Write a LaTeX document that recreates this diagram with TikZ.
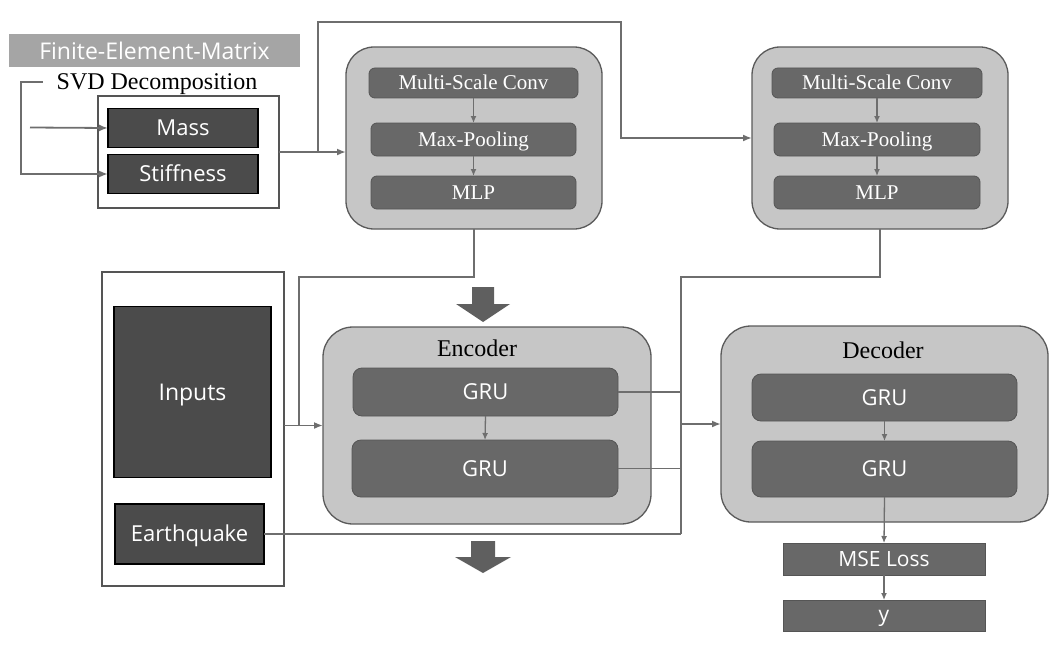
\documentclass[tikz,border=0pt]{standalone}
\usepackage{fontspec}
\setmainfont{Liberation Serif}
\newfontfamily\uisans{Open Sans}
\usetikzlibrary{arrows.meta,calc}
\definecolor{outerfill}{HTML}{C6C6C6}
\definecolor{outerdraw}{HTML}{5A5A5A}
\definecolor{innerfill}{HTML}{686868}
\definecolor{innerdraw}{HTML}{555555}
\definecolor{darkfill}{HTML}{4B4B4B}
\definecolor{linec}{HTML}{6E6E6E}
\definecolor{bannerc}{HTML}{A5A5A5}
\definecolor{blockc}{HTML}{5F5F5F}
\newcommand{\fs}[1]{\fontsize{#1}{#1}\selectfont}
\begin{document}
\begin{tikzpicture}[x=1pt,y=-1pt,
  every node/.style={outer sep=0pt, inner sep=0pt},
  sansf/.style={font=\uisans\fs{#1}, text height={0.714*#1pt}, text depth=0pt},
  seriff/.style={font=\fs{#1}, text height={0.662*#1pt}, text depth=0pt},
  outerbox/.style={draw=outerdraw, fill=outerfill, line width=1.3pt, rounded corners=28pt},
  innerbox/.style={draw=innerdraw, fill=innerfill, line width=0.8pt, rounded corners=6pt, text=white},
  darkbox/.style={draw=black, fill=darkfill, line width=1.3pt, text=white},
  whitebox/.style={draw=innerdraw, fill=white, line width=1.2pt},
  lossbox/.style={draw=innerdraw, fill=innerfill, line width=0.8pt, text=white},
  conn/.style={draw=linec, line width=1.8pt},
  arr/.style={conn, -{Latex[length=9pt,width=7pt]}},
  iarr/.style={draw=linec, line width=1.3pt, -{Latex[length=7pt,width=6pt]}},
  blk/.style={fill=blockc}
]
\useasboundingbox (0,0) rectangle (1056,658);

% Finite element matrix banner
\node[fill=bannerc, text=white, minimum width=291pt, minimum height=33pt, sansf=23] (banner) at (154.5,51) {Finite-Element-Matrix};
\node[seriff=24] (svd) at (157,82) {SVD Decomposition};

% Mass / Stiffness
\node[whitebox, minimum width=181pt, minimum height=112pt] (mbox) at (188.5,152) {};
\node[darkbox, sansf=22, minimum width=150pt, minimum height=39pt] (mass) at (183,128) {Mass};
\node[darkbox, sansf=22, minimum width=150pt, minimum height=39pt] (stiff) at (183,174) {Stiffness};

% Block 1
\node[outerbox, minimum width=256pt, minimum height=182pt] (b1) at (474,138) {};
\node[innerbox, seriff=21, minimum width=209pt, minimum height=30pt] (c1) at (473.5,83) {Multi-Scale Conv};
\node[innerbox, seriff=21, minimum width=205pt, minimum height=33pt] (p1) at (473.5,139.5) {Max-Pooling};
\node[innerbox, seriff=21, minimum width=205pt, minimum height=33pt] (m1) at (473.5,192.5) {MLP};

% Block 2
\node[outerbox, minimum width=256pt, minimum height=182pt] (b2) at (880,138) {};
\node[innerbox, seriff=21, minimum width=210pt, minimum height=30pt] (c2) at (877,83) {Multi-Scale Conv};
\node[innerbox, seriff=21, minimum width=206pt, minimum height=33pt] (p2) at (877,139.5) {Max-Pooling};
\node[innerbox, seriff=21, minimum width=206pt, minimum height=33pt] (m2) at (877,192.5) {MLP};

% Inputs
\node[whitebox, minimum width=182pt, minimum height=314pt] (ibox) at (193,429) {};
\node[darkbox, sansf=23, minimum width=157pt, minimum height=171pt] (inp) at (192.5,392) {Inputs};
\node[darkbox, sansf=22, minimum width=149pt, minimum height=60pt] (eq) at (189.5,534) {Earthquake};

% Encoder
\node[outerbox, rounded corners=30pt, minimum width=328pt, minimum height=197pt] (enc) at (487,425.5) {};
\node[seriff=24] (enclab) at (477,349) {Encoder};
\node[innerbox, sansf=22, rounded corners=9pt, minimum width=265pt, minimum height=48pt] (g1) at (485.5,392) {GRU};
\node[innerbox, sansf=22, rounded corners=9pt, minimum width=266pt, minimum height=57pt] (g2) at (485,468.5) {GRU};

% Decoder
\node[outerbox, rounded corners=30pt, minimum width=327pt, minimum height=196pt] (dec) at (884.5,424) {};
\node[seriff=24] (declab) at (883,351) {Decoder};
\node[innerbox, sansf=22, rounded corners=9pt, minimum width=265pt, minimum height=47pt] (dg1) at (884.5,397.5) {GRU};
\node[innerbox, sansf=22, rounded corners=9pt, minimum width=265pt, minimum height=56pt] (dg2) at (884.5,469) {GRU};

% Loss / output
\node[lossbox, sansf=21, minimum width=202pt, minimum height=32pt] (mse) at (884,559) {MSE Loss};
\node[lossbox, font=\uisans\fs{21}, text height=11pt, text depth=0pt, minimum width=202pt, minimum height=31pt] (yb) at (884,615.5) {y};

% Block arrows
\fill[blk] (472,287) -- (494,287) -- (494,304) -- (510,304) -- (483,322) -- (456,304) -- (472,304) -- cycle;
\fill[blk] (471,541) -- (495,541) -- (495,557) -- (511,557) -- (483,573) -- (455,557) -- (471,557) -- cycle;

% Coordinates
\coordinate (massin) at (30,127.5);
\coordinate (j1) at (318,152);
\coordinate (t2) at (621,22);
\coordinate (k1) at (299,277);
\coordinate (k2) at (681,277);

% Connectors top-left
\draw[arr] ([xshift=-14pt]svd.west) -- ++(-22,0) |- (stiff.west);
\draw[arr] (massin) -- (mass.west);
\draw[arr] (mbox.east) -- (mbox.east -| b1.west);
\draw[arr] (j1) |- (t2) |- (b2.west);

% Inner block arrows
\draw[iarr] (c1.south) -- (p1.north);
\draw[iarr] (p1.south) -- (m1.north);
\draw[iarr] (c2.south) -- (p2.north);
\draw[iarr] (p2.south) -- (m2.north);
\draw[iarr] (g1.south) -- (g2.north);
\draw[iarr] (dg1.south) -- (dg2.north);
\draw[iarr] (dg2.south) -- (mse.north);
\draw[iarr] (mse.south) -- (yb.north);

% Block1 to encoder
\draw[arr] (b1.south) |- (k1) |- (enc.west);
\draw[conn] (ibox.east |- enc.west) -- (k1 |- enc.west);

% Block2 / encoder to decoder
\draw[conn] (b2.south) |- (k2) -- (k2 |- eq.east);
\draw[conn] (eq.east) -- (eq.east -| k2);
\draw[conn] (g1.east) -- (g1.east -| k2);
\draw[conn] (g2.east) -- (g2.east -| k2);
\draw[arr] (k2 |- dec.west) -- (dec.west);
\end{tikzpicture}
\end{document}
